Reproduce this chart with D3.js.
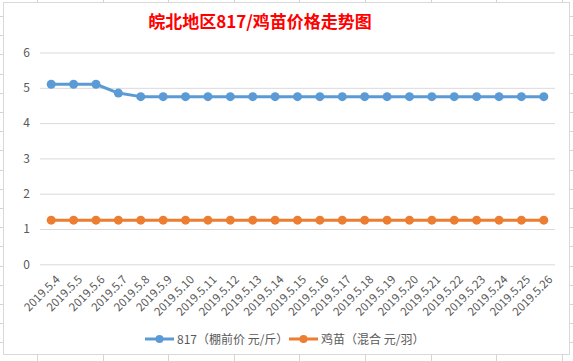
<!DOCTYPE html>
<html><head><meta charset="utf-8">
<script src="https://cdn.jsdelivr.net/npm/d3@7"></script>
<style>body{margin:0;background:#fff}svg{display:block}</style>
</head><body>
<svg id="c" width="573" height="361"></svg>
<script>
const categories = ["2019.5.4","2019.5.5","2019.5.6","2019.5.7","2019.5.8","2019.5.9","2019.5.10","2019.5.11","2019.5.12","2019.5.13","2019.5.14","2019.5.15","2019.5.16","2019.5.17","2019.5.18","2019.5.19","2019.5.20","2019.5.21","2019.5.22","2019.5.23","2019.5.24","2019.5.25","2019.5.26"];
const series817 = [5.1,5.1,5.1,4.85,4.75,4.75,4.75,4.75,4.75,4.75,4.75,4.75,4.75,4.75,4.75,4.75,4.75,4.75,4.75,4.75,4.75,4.75,4.75];
const seriesChick = [1.25,1.25,1.25,1.25,1.25,1.25,1.25,1.25,1.25,1.25,1.25,1.25,1.25,1.25,1.25,1.25,1.25,1.25,1.25,1.25,1.25,1.25,1.25];
const yTicks = [0,1,2,3,4,5,6];
const seriesNames = ["817（棚前价 元/斤）","鸡苗（混合 元/羽）"];
const title = "皖北地区817/鸡苗价格走势图";

const svg = d3.select("#c");
const font = "'Microsoft YaHei','Noto Sans CJK SC','DejaVu Sans',sans-serif";

// spreadsheet background gridlines
const bg = svg.append("g").attr("stroke","#d4d4d4").attr("stroke-width",1);
d3.range(37, 573, 65.6).forEach(x => bg.append("line").attr("x1",Math.round(x)+0.5).attr("x2",Math.round(x)+0.5).attr("y1",0).attr("y2",361));
d3.range(16, 361, 19.2).forEach(y => bg.append("line").attr("x1",0).attr("x2",573).attr("y1",Math.round(y)+0.5).attr("y2",Math.round(y)+0.5));

// chart area
svg.append("rect").attr("x",3.5).attr("y",2.5).attr("width",566).attr("height",352)
  .attr("fill","#fff").attr("stroke","#d9d9d9").attr("stroke-width",1);

const x = d3.scalePoint().domain(categories).range([40,555]).padding(0.5);
const y = d3.scaleLinear().domain([0,6]).range([264.3,52.5]);

// y gridlines & labels
const yAxis = d3.axisLeft(y).tickValues(yTicks).tickSize(-(555-40)).tickFormat(d3.format("d")).tickPadding(10);
const gy = svg.append("g").attr("transform","translate(40,0)").call(yAxis);
gy.select(".domain").remove();
gy.selectAll(".tick line").attr("stroke","#d9d9d9").attr("stroke-width",1);
gy.selectAll(".tick text").attr("fill","#595959").style("font-size","12px").style("font-family",font);

// x labels
const xAxis = d3.axisBottom(x).tickSize(0).tickPadding(0);
const gx = svg.append("g").attr("transform","translate(0,264.3)").call(xAxis);
gx.select(".domain").remove();
gx.selectAll(".tick text")
  .attr("fill","#595959").style("font-size","11.5px").style("font-family",font)
  .attr("text-anchor","end").attr("dy",0).attr("y",0)
  .attr("transform","translate(9,16) rotate(-45)");

const colors = ["#5B9BD5","#ED7D31"];
const data = [series817, seriesChick];
const line = d3.line().x((d,i)=>x(categories[i])).y(d=>y(d));
data.forEach((s,k)=>{
  svg.append("path").datum(s).attr("d",line).attr("fill","none")
    .attr("stroke",colors[k]).attr("stroke-width",3).attr("stroke-linejoin","round");
  svg.append("g").selectAll("circle").data(s).join("circle")
    .attr("cx",(d,i)=>x(categories[i])).attr("cy",d=>y(d)).attr("r",4.5).attr("fill",colors[k]);
});

// title
svg.append("text").attr("x",260).attr("y",28).attr("text-anchor","middle")
  .attr("fill","#FF0000").style("font-size","17px").style("font-weight","bold").style("font-family",font)
  .text(title);

// legend
const lg = svg.append("g");
const legendX = [145, 289];
seriesNames.forEach((n,k)=>{
  const lx = legendX[k];
  lg.append("line").attr("x1",lx).attr("x2",lx+29).attr("y1",339).attr("y2",339).attr("stroke",colors[k]).attr("stroke-width",3);
  lg.append("circle").attr("cx",lx+14.5).attr("cy",339).attr("r",4).attr("fill",colors[k]);
  lg.append("text").attr("x",lx+32).attr("y",343.5).attr("fill","#595959")
    .style("font-size","12px").style("font-family",font).text(n);
});
</script>
</body></html>
